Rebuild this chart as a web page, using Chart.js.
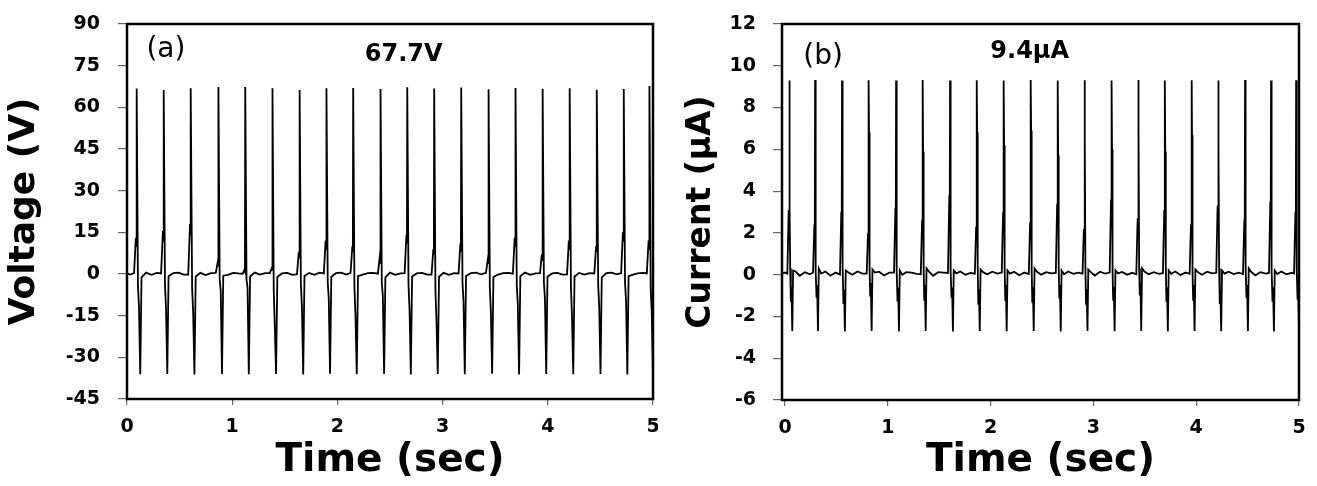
<!DOCTYPE html>
<html><head><meta charset="utf-8">
<script src="https://cdn.jsdelivr.net/npm/chart.js@4.4.0/dist/chart.umd.min.js"></script>
<style>
html,body{margin:0;padding:0;background:#fff;}
#wrap{position:relative;width:1317px;height:486px;overflow:hidden;background:#fff;}
canvas{position:absolute;top:0;}
</style></head><body>
<div id="wrap">
<canvas id="cv" width="658" height="486" style="left:0"></canvas>
<canvas id="ci" width="659" height="486" style="left:658px"></canvas>
</div>
<script>
// ---------- tick labels ----------
const timeTicks = [0, 1, 2, 3, 4, 5];
const voltageTicks = [-45, -30, -15, 0, 15, 30, 45, 60, 75, 90];
const currentTicks = [-6, -4, -2, 0, 2, 4, 6, 8, 10, 12];

// ---------- panel (a): voltage ----------
const voltageStart = [[0, 0.2], [0.03, -0.2]];
const voltagePulseTimes = [0.092, 0.349, 0.607, 0.869, 1.124, 1.383, 1.641, 1.896, 2.150, 2.410,
                           2.664, 2.920, 3.177, 3.437, 3.693, 3.951, 4.208, 4.467, 4.722, 4.966];
// time offsets (s) of the samples read inside each pulse
const voltagePulseOffsets = [-0.025, -0.008, -0.003, 0, 0.012, 0.022, 0.034, 0.046, 0.09, 0.14, 0.19];
// values (V) at those samples, one row per pulse
const voltagePulseValues = [
  [0.3, 13, 10, 66.8, -4, -12, -36.1, -1.2, 0.5, -0.3, 0.4],
  [0.2, 15.5, 12, 66.2, -4, -12.5, -36.0, -0.8, 0.3, 0.5, -0.2],
  [-0.2, 18, 14, 66.9, -5, -14, -36.2, -1.0, 0.4, -0.4, 0.3],
  [0.4, 4, 3, 67.3, -2, -6, -36.0, -0.6, -0.3, 0.4, 0.2],
  [0.1, 1.5, 1, 67.3, -2, -5, -36.1, -0.9, 0.5, -0.2, 0.3],
  [0.3, 2, 1.5, 66.9, -6, -19, -36.0, -1.1, 0.2, 0.4, -0.3],
  [-0.1, 8, 6, 66.2, -4, -12, -36.2, -0.7, 0.4, -0.3, 0.5],
  [0.2, 12, 9, 66.9, -3, -9, -35.9, -1.0, 0.3, 0.5, -0.2],
  [0.4, 10, 8, 67.0, -5, -15, -36.1, -0.8, -0.2, 0.3, 0.4],
  [0.1, 6, 4, 66.6, -3, -8, -36.0, -1.2, 0.5, -0.3, 0.2],
  [0.3, 14, 11, 67.2, -4, -13, -36.2, -0.9, 0.2, 0.4, -0.2],
  [-0.2, 9, 7, 66.8, -6, -17, -36.0, -1.0, 0.4, -0.3, 0.3],
  [0.2, 11, 8, 67.1, -3, -10, -36.1, -0.7, 0.3, 0.5, -0.1],
  [0.4, 5, 4, 66.5, -5, -14, -35.9, -1.1, -0.2, 0.3, 0.4],
  [0.1, 13, 10, 67.0, -4, -11, -36.2, -0.8, 0.5, -0.3, 0.2],
  [0.3, 7, 5, 66.7, -3, -9, -36.0, -1.0, 0.2, 0.4, -0.2],
  [-0.1, 12, 9, 66.9, -5, -15, -36.1, -0.9, 0.4, -0.2, 0.3],
  [0.2, 10, 8, 66.3, -4, -12, -36.0, -1.2, 0.3, 0.5, -0.1],
  [0.3, 15, 12, 66.6, -3, -10, -36.2, -0.8, -0.2, 0.3, 0.4],
  [0.2, 12, 9, 67.7, -5, -14, -36.0, -1.0, 0.3, -0.2, 0.2]
];

// ---------- panel (b): current ----------
const currentStart = [[-0.03, 0.05], [0.0, 0.1]];
const currentPulseTimes = [0.042, 0.292, 0.554, 0.814, 1.080, 1.340, 1.605, 1.866, 2.128, 2.391,
                           2.654, 2.914, 3.178, 3.437, 3.696, 3.956, 4.215, 4.475, 4.728, 4.972];
const currentPulseOffsets = [-0.02, -0.007, -0.003, 0, 0.003, 0.008, 0.014, 0.02, 0.028, 0.036, 0.06, 0.1, 0.15, 0.2];
const currentPulseValues = [
  [0.05, 3.1, 2.2, 9.30, 3.2, 0.3, -1.3, -0.6, -2.70, 0.20, 0.15, -0.05, 0.12, 0.02],
  [0.10, 2.4, 1.9, 9.32, 6.8, 0.2, -1.1, -0.5, -2.70, 0.30, 0.05, 0.15, -0.05, 0.10],
  [0.00, 3.0, 2.4, 9.30, 7.1, 0.4, -1.4, -0.7, -2.72, 0.20, 0.12, 0.00, 0.15, 0.05],
  [0.05, 2.0, 1.6, 9.31, 6.8, 0.3, -1.0, -0.4, -2.70, 0.25, 0.10, 0.14, -0.04, 0.10],
  [0.10, 3.2, 2.3, 9.30, 5.8, 0.2, -1.3, -0.6, -2.72, 0.20, 0.00, 0.12, 0.10, 0.04],
  [0.02, 2.6, 1.8, 9.32, 5.9, 0.3, -1.2, -0.5, -2.70, 0.30, 0.15, -0.05, 0.12, 0.10],
  [0.08, 3.8, 2.5, 9.30, 5.8, 0.2, -1.1, -0.6, -2.72, 0.20, 0.06, 0.15, 0.00, 0.08],
  [0.05, 2.3, 1.7, 9.31, 6.8, 0.4, -1.4, -0.7, -2.70, 0.25, 0.12, 0.02, 0.14, 0.05],
  [0.10, 3.0, 2.1, 9.30, 6.2, 0.3, -1.2, -0.5, -2.71, 0.20, 0.05, 0.14, -0.03, 0.10],
  [0.03, 2.5, 1.9, 9.32, 6.9, 0.2, -1.3, -0.6, -2.70, 0.30, 0.14, 0.00, 0.12, 0.06],
  [0.08, 3.4, 2.4, 9.30, 5.7, 0.4, -1.1, -0.5, -2.72, 0.20, 0.02, 0.15, 0.04, 0.10],
  [0.05, 2.2, 1.6, 9.31, 6.6, 0.3, -1.4, -0.7, -2.70, 0.25, 0.12, -0.04, 0.14, 0.05],
  [0.10, 3.6, 2.6, 9.30, 6.0, 0.2, -1.2, -0.6, -2.71, 0.20, 0.06, 0.13, 0.00, 0.09],
  [0.02, 2.7, 2.0, 9.32, 7.0, 0.3, -1.0, -0.4, -2.70, 0.30, 0.15, 0.02, 0.12, 0.04],
  [0.07, 3.1, 2.2, 9.30, 5.9, 0.4, -1.3, -0.6, -2.72, 0.20, 0.04, 0.15, -0.02, 0.10],
  [0.04, 2.4, 1.8, 9.31, 6.7, 0.2, -1.2, -0.5, -2.70, 0.25, 0.12, 0.00, 0.14, 0.06],
  [0.09, 3.3, 2.4, 9.30, 6.1, 0.3, -1.4, -0.7, -2.71, 0.20, 0.05, 0.14, 0.03, 0.10],
  [0.03, 2.6, 1.9, 9.32, 6.9, 0.4, -1.1, -0.5, -2.70, 0.30, 0.13, -0.03, 0.12, 0.05],
  [0.08, 3.5, 2.5, 9.30, 5.8, 0.2, -1.3, -0.6, -2.72, 0.20, 0.03, 0.15, 0.02, 0.09],
  [0.05, 3.0, 2.2, 9.31, 6.5, 0.3, -1.2, -0.6, -2.70, 0.20, 0.10, 0.00, 0.10, 0.05]
];

// ---------- in-plot labels (data coordinates) ----------
const voltageNotes = [
  {text: '(a)', x: 0.37, y: 80.6, bold: false, size: 28},
  {text: '67.7V', x: 2.63, y: 78.8, bold: true, size: 24}
];
const currentNotes = [
  {text: '(b)', x: 0.37, y: 10.43, bold: false, size: 28},
  {text: '9.4\u03bcA', x: 2.38, y: 10.67, bold: true, size: 24}
];

function buildSeries(start, times, offsets, rows) {
  const pts = start.map(p => ({x: p[0], y: p[1]}));
  times.forEach((t, i) => {
    offsets.forEach((o, j) => pts.push({x: +(t + o).toFixed(4), y: rows[i][j]}));
  });
  return pts;
}

const FONT = "'DejaVu Sans', 'Liberation Sans', Arial, sans-serif";

const framePlugin = {
  id: 'frame',
  afterDatasetsDraw(chart) {
    const {ctx, chartArea: a} = chart;
    ctx.save();
    ctx.strokeStyle = '#000';
    ctx.lineWidth = 2.5;
    ctx.strokeRect(a.left, a.top, a.right - a.left, a.bottom - a.top);
    ctx.restore();
  }
};
const notesPlugin = {
  id: 'notes',
  afterDraw(chart, args, opts) {
    const {ctx} = chart;
    const xs = chart.scales.x, ys = chart.scales.y;
    ctx.save();
    ctx.fillStyle = '#000';
    ctx.textAlign = 'center';
    ctx.textBaseline = 'middle';
    (opts.items || []).forEach(n => {
      ctx.font = (n.bold ? 'bold ' : '') + n.size + 'px ' + FONT;
      ctx.fillText(n.text, xs.getPixelForValue(n.x), ys.getPixelForValue(n.y));
    });
    ctx.restore();
  }
};

function makeChart(canvas, cfg) {
  return new Chart(canvas, {
    type: 'line',
    data: {datasets: [{
      data: cfg.data,
      borderColor: '#000',
      borderWidth: 1.8,
      pointRadius: 0,
      tension: 0,
      fill: false
    }]},
    options: {
      responsive: false,
      animation: false,
      events: [],
      layout: {padding: {left: 0, right: cfg.padRight, top: 24, bottom: 0}},
      plugins: {legend: {display: false}, tooltip: {enabled: false}, notes: {items: cfg.notes}},
      scales: {
        x: {
          type: 'linear',
          min: cfg.xMin, max: 5,
          afterBuildTicks: s => { s.ticks = timeTicks.map(v => ({value: v})); },
          afterFit: s => { s.height = cfg.xHeight; s.paddingLeft = 0; s.paddingRight = 0; },
          border: {display: false},
          grid: {drawOnChartArea: false, drawTicks: true, tickLength: 6, color: '#666', lineWidth: 1.2},
          ticks: {color: '#000', padding: 11, font: {family: FONT, weight: 'bold', size: 19}, maxRotation: 0},
          title: {display: true, text: 'Time (sec)', color: '#000', padding: {top: 0, bottom: 2},
                  font: {family: FONT, weight: 'bold', size: 39}}
        },
        y: {
          min: cfg.yTicks[0], max: cfg.yTicks[cfg.yTicks.length - 1],
          afterBuildTicks: s => { s.ticks = cfg.yTicks.map(v => ({value: v})); },
          afterFit: s => { s.width = cfg.yWidth; s.paddingTop = 0; s.paddingBottom = 0; },
          border: {display: false},
          grid: {drawOnChartArea: false, drawTicks: true, tickLength: 9, color: '#666', lineWidth: 1.2},
          ticks: {color: '#000', padding: cfg.yPad, font: {family: FONT, weight: 'bold', size: 19}},
          title: {display: true, text: cfg.yTitle, color: '#000', padding: {top: cfg.yTitlePad, bottom: 0},
                  font: {family: FONT, weight: 'bold', size: cfg.yTitleSize}}
        }
      }
    },
    plugins: [framePlugin, notesPlugin]
  });
}

makeChart(document.getElementById('cv'), {
  data: buildSeries(voltageStart, voltagePulseTimes, voltagePulseOffsets, voltagePulseValues),
  yTicks: voltageTicks, yTitle: 'Voltage (V)', yTitleSize: 36, yTitlePad: 3,
  xMin: 0, padRight: 5, xHeight: 87, yWidth: 127, yPad: 18, notes: voltageNotes
});
makeChart(document.getElementById('ci'), {
  data: buildSeries(currentStart, currentPulseTimes, currentPulseOffsets, currentPulseValues),
  yTicks: currentTicks, yTitle: 'Current (\u03bcA)', yTitleSize: 33, yTitlePad: 24,
  xMin: -0.03, padRight: 18, xHeight: 86, yWidth: 124, yPad: 17, notes: currentNotes
});
</script>
</body></html>
